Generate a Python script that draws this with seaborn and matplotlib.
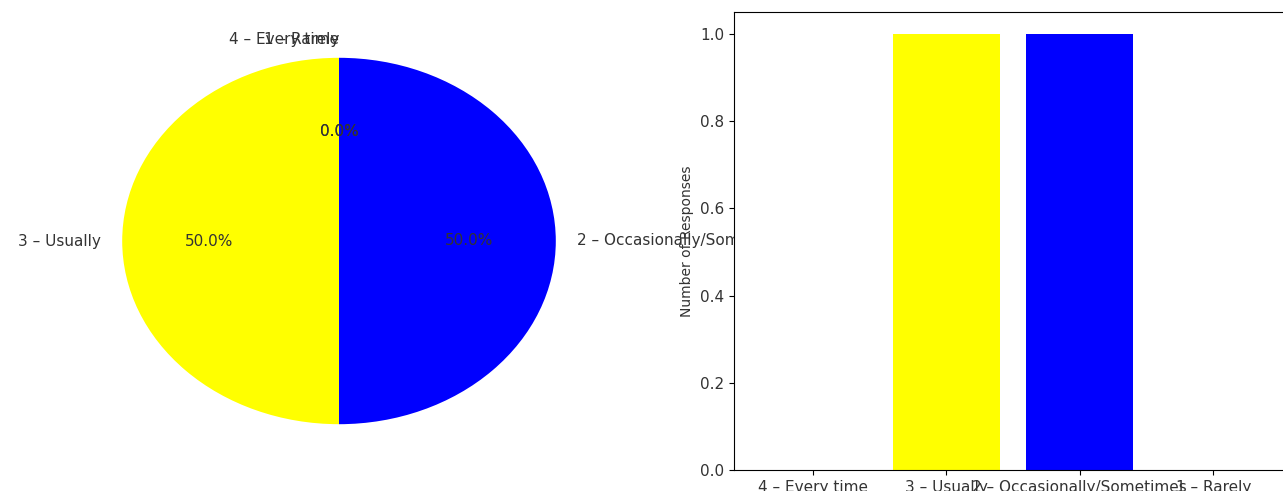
import matplotlib
matplotlib.use("Agg")
import matplotlib.pyplot as plt
import seaborn as sns
import pandas as pd

# respuestas por categoria
categorias = ["4 – Every time", "3 – Usually", "2 – Occasionally/Sometimes", "1 – Rarely"]
respuestas = [0, 1, 1, 0]
colores = ["green", "yellow", "blue", "red"]

df = pd.DataFrame({"categoria": categorias, "respuestas": respuestas})

plt.rcParams["font.size"] = 11
plt.rcParams["text.color"] = "#333333"
plt.rcParams["xtick.labelcolor"] = "#333333"
plt.rcParams["ytick.labelcolor"] = "#333333"
plt.rcParams["axes.labelcolor"] = "#333333"

W, H = 1283, 491
fig = plt.figure(figsize=(W / 100, H / 100), dpi=100)

## pie
ax1 = fig.add_axes([68 / W, 21 / H, 542 / W, 458 / H])
wedges, texts, autotexts = ax1.pie(df["respuestas"], labels=df["categoria"], colors=colores,
                                   autopct="%1.1f%%", startangle=90)
ax1.set_aspect("auto")
for t in texts:
    x, y = t.get_position()
    if abs(x) < 1e-6:
        t.set_ha("right")

## barras
ax2 = fig.add_axes([734 / W, 21 / H, 558 / W, 458 / H])
sns.barplot(ax=ax2, data=df, x="categoria", y="respuestas", hue="categoria",
            palette=colores, legend=False, width=0.8, saturation=1, linewidth=0)
ax2.set_xlim(-0.59, 3.59)
ax2.set_ylim(0, 1.05)
ax2.set_xlabel("")
ax2.set_ylabel("Number of Responses", fontsize=10)

fig.savefig("out.png", dpi=100)
